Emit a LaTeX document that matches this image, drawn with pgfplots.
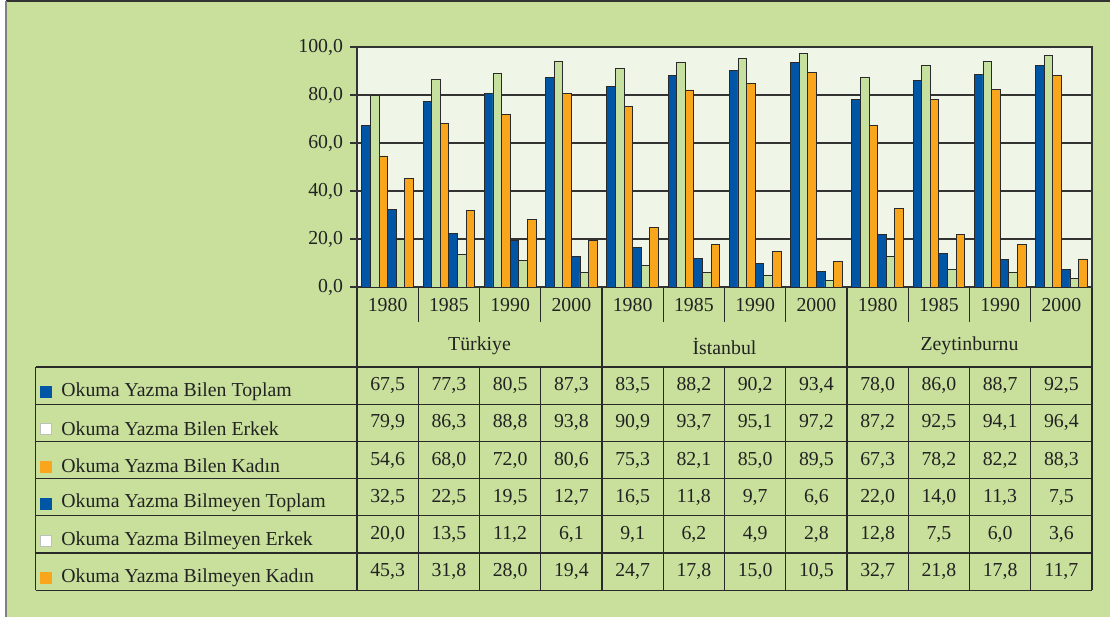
\documentclass[border=0pt]{standalone}
\usepackage{fontspec}
\setmainfont{Liberation Serif}
\usepackage{pgfplots}
\usepackage{pgfplotstable}
\pgfplotsset{compat=1.18}
\definecolor{cbg}{HTML}{C8E09C}
\definecolor{cplot}{HTML}{EFF6E8}
\definecolor{cblue}{HTML}{0055A5}
\definecolor{clgreen}{HTML}{C6E0A0}
\definecolor{corange}{HTML}{F9A61D}
\definecolor{cgrid}{HTML}{333333}
\definecolor{cedge}{HTML}{2A2A2A}
\definecolor{cink}{HTML}{222222}

% columns: okuma yazma bilen / bilmeyen x toplam, erkek, kadin
\pgfplotstableread{
x    bt   be   bk   nt   ne   nk
0.5  67.5 79.9 54.6 32.5 20.0 45.3
1.5  77.3 86.3 68.0 22.5 13.5 31.8
2.5  80.5 88.8 72.0 19.5 11.2 28.0
3.5  87.3 93.8 80.6 12.7 6.1  19.4
4.5  83.5 90.9 75.3 16.5 9.1  24.7
5.5  88.2 93.7 82.1 11.8 6.2  17.8
6.5  90.2 95.1 85.0 9.7  4.9  15.0
7.5  93.4 97.2 89.5 6.6  2.8  10.5
8.5  78.0 87.2 67.3 22.0 12.8 32.7
9.5  86.0 92.5 78.2 14.0 7.5  21.8
10.5 88.7 94.1 82.2 11.3 6.0  17.8
11.5 92.5 96.4 88.3 7.5  3.6  11.7
}\datatable

\begin{document}
\begin{tikzpicture}[font=\fontsize{9.9}{11.5}\selectfont, text=cink]
\useasboundingbox (0pt,0pt) rectangle (555pt,-308.5pt);
%% background and table, in pixel units
\begin{scope}[x=0.5pt, y=-0.5pt]
  \fill[white] (0,0) rectangle (1110,617);
  \fill[cbg] (6,1) rectangle (1110,617);
  \draw[cgrid, line width=0.8pt] (6,1) -- (1110,1);
  \draw[gray, line width=1pt] (6,1) -- (6,617);
  % year and region header
  \foreach \k in {1,2,3,5,6,7,9,10,11}
    \draw[cedge, line width=0.6pt] ({357+\k*61.25},287) -- ({357+\k*61.25},322);
  \foreach \k in {0,4,8,12}
    \draw[cedge, line width=0.6pt] ({357+\k*61.25},287) -- ({357+\k*61.25},590.2);
  \foreach \k in {1,2,3,5,6,7,9,10,11}
    \draw[cedge, line width=0.6pt] ({357+\k*61.25},367) -- ({357+\k*61.25},590.2);
  \foreach \k in {0,...,11} {
    \pgfmathtruncatemacro\yy{mod(\k,4)}
    \ifcase\yy \def\yr{1980}\or \def\yr{1985}\or \def\yr{1990}\or \def\yr{2000}\fi
    \node at ({357+(\k+0.5)*61.25},305) {\yr};
  }
  \foreach \reg [count=\r from 0] in {Türkiye,İstanbul,Zeytinburnu}
    \node at ({357+(4*\r+2)*61.25},346) {\reg};
  % table rows
  \foreach \i in {0,...,6}
    \draw[cedge, line width=0.6pt] (35.7,{367+\i*37.2}) -- (1092,{367+\i*37.2});
  \draw[cedge, line width=0.6pt] (35.7,367) -- (35.7,590.2);
  \foreach \c/\fc/\dc/\lab [count=\r] in {
      bt/cblue/cblue/Okuma Yazma Bilen Toplam,
      be/white/lightgray/Okuma Yazma Bilen Erkek,
      bk/corange/corange/Okuma Yazma Bilen Kadın,
      nt/cblue/cblue/Okuma Yazma Bilmeyen Toplam,
      ne/white/lightgray/Okuma Yazma Bilmeyen Erkek,
      nk/corange/corange/Okuma Yazma Bilmeyen Kadın} {
    \filldraw[fill=\fc, draw=\dc, line width=0.4pt]
      (40.5,{367+(\r-0.5)*37.2+1}) rectangle (51.5,{367+(\r-0.5)*37.2+12});
    \node[anchor=west, inner sep=0pt] at (61,{367+(\r-0.5)*37.2+6}) {\lab};
    \pgfplotstableforeachcolumnelement{\c}\of\datatable\as\cell{%
      \node at ({357+(\pgfplotstablerow+0.5)*61.25},{367+(\r-0.5)*37.2})
        {\pgfmathprintnumber[fixed,fixed zerofill,precision=1,use comma,assume math mode=true]{\cell}};
    }
  }
\end{scope}
%% bars
\begin{axis}[at={(178.5pt,-143.5pt)}, anchor=south west,
    width=367.5pt, height=120pt, scale only axis,
    xmin=0, xmax=12, ymin=0, ymax=100,
    ytick={0,20,...,100}, xtick=\empty, ytick pos=left,
    ymajorgrids, grid style={cgrid, line width=0.6pt},
    axis line style={cgrid, line width=0.6pt},
    tick style={cgrid, line width=0.6pt}, tick align=outside, major tick length=3.5pt,
    axis background/.style={fill=cplot},
    yticklabel style={text=cink, /pgf/number format/.cd, fixed, fixed zerofill, precision=1, use comma, assume math mode=true},
    ybar=0pt, bar width=4.3pt,
    every axis plot/.append style={draw=cedge, line width=0.4pt}]
  \addplot[fill=cblue] table[x=x, y=bt] {\datatable};
  \addplot[fill=clgreen] table[x=x, y=be] {\datatable};
  \addplot[fill=corange] table[x=x, y=bk] {\datatable};
  \addplot[fill=cblue] table[x=x, y=nt] {\datatable};
  \addplot[fill=clgreen] table[x=x, y=ne] {\datatable};
  \addplot[fill=corange] table[x=x, y=nk] {\datatable};
\end{axis}
\end{tikzpicture}
\end{document}
